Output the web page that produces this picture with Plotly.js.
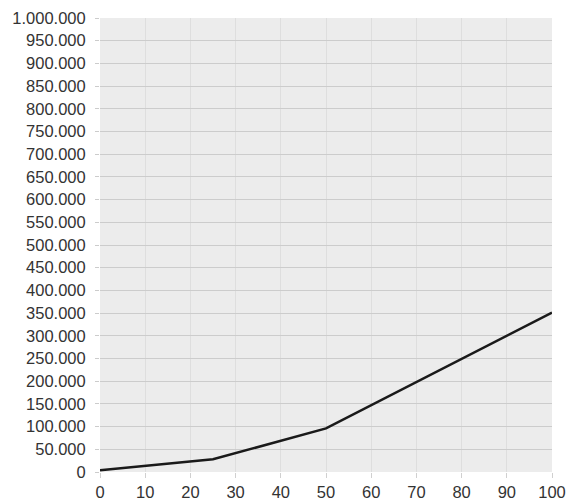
<!DOCTYPE html>
<html><head><meta charset="utf-8">
<script src="https://cdn.plot.ly/plotly-3.0.1.min.js"></script>
<style>html,body{margin:0;padding:0;background:#fff}#c{width:570px;height:499px}</style>
</head><body><div id="c"></div>
<script>
const xValues = [0, 25, 50, 100];
const yValues = [4000, 28000, 96000, 351000];
const xTicks = [0,10,20,30,40,50,60,70,80,90,100];

const trace = {x: xValues, y: yValues, type: 'scatter', mode: 'lines',
  line: {color: '#1a1a1a', width: 2.5}, hoverinfo: 'none'};

const layout = {
  width: 570, height: 499,
  margin: {l: 100, r: 18, t: 18, b: 27, pad: 0},
  paper_bgcolor: '#ffffff', plot_bgcolor: '#ececec',
  separators: ',.',
  showlegend: false,
  font: {family: 'Liberation Sans, Arial, sans-serif', size: 16.5, color: '#333333'},
  xaxis: {range: [0, 100], tickvals: xTicks, showgrid: true, gridcolor: '#dedede', gridwidth: 1,
    zeroline: false, ticks: 'outside', ticklen: 5, tickcolor: '#d0d0d0', showline: false,
    fixedrange: true, ticklabelstandoff: 0},
  yaxis: {range: [0, 1000000], dtick: 50000, tickformat: ',d', showgrid: true, gridcolor: '#cccccc', gridwidth: 1,
    zeroline: false, ticks: 'outside', ticklen: 4, tickcolor: '#cccccc', showline: false,
    fixedrange: true, ticklabelstandoff: 6}
};
Plotly.newPlot('c', [trace], layout, {displayModeBar: false, staticPlot: true});
</script></body></html>
